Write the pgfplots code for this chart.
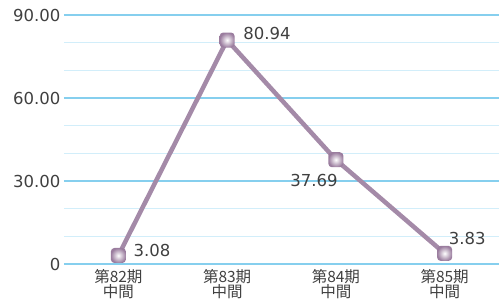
\documentclass[border=0pt]{standalone}
\usepackage{pgfplots}
\pgfplotsset{compat=1.18}
\usepackage{fontspec}
\setmainfont{DejaVu Sans}
\newfontfamily\cjk{Noto Sans CJK JP}
\definecolor{lncol}{HTML}{A48AA8}
\definecolor{mkdark}{HTML}{9A7C9E}
\definecolor{mkmid}{HTML}{C9B3CB}
\definecolor{gmaj}{HTML}{86CFEE}
\definecolor{gmin}{HTML}{D2EEFA}
\definecolor{txt}{HTML}{404040}
\begin{document}
\begin{tikzpicture}
\path[use as bounding box] (-64pt,-36pt) rectangle (435pt,264pt);
\begin{axis}[
  at={(0,0)}, anchor=south west,
  scale only axis, width=435pt, height=249pt,
  xmin=-0.5, xmax=3.5, ymin=0, ymax=90,
  axis line style={draw=none},
  major tick length=0pt, minor tick length=0pt,
  xtick={0,1,2,3},
  xticklabels={{第82期\\中間},{第83期\\中間},{第84期\\中間},{第85期\\中間}},
  xticklabel style={align=center, font=\cjk\fontsize{15.5}{14.5}\selectfont, text=txt, yshift=-2pt},
  ytick={0,30,60,90},
  yticklabels={0,30.00,60.00,90.00},
  minor ytick={10,20,40,50,70,80},
  yticklabel style={font=\fontsize{16.5}{18}\selectfont, text=txt, xshift=0pt},
  ymajorgrids, yminorgrids,
  major grid style={gmaj, line width=1.2pt},
  minor grid style={gmin, line width=1.2pt},
  clip=false,
]
\addplot[lncol, line width=4.5pt, mark=none] coordinates {(0,3.08) (1,80.94) (2,37.69) (3,3.83)};
\addplot[draw=none, mark=none, nodes near coords={},
  every node near coord/.append style={anchor=center, minimum size=15pt, inner sep=0pt,
    rounded corners=3.5pt, inner color=white, outer color=mkdark, shade}]
  coordinates {(0,3.08) (1,80.94) (2,37.69) (3,3.83)};
\begin{scope}[every node/.style={font=\fontsize{16.5}{18}\selectfont, text=txt, inner sep=0pt}]
\node[anchor=west] at (axis cs:0,3.08) [xshift=15pt, yshift=5pt] {3.08};
\node[anchor=west] at (axis cs:1,80.94) [xshift=16pt, yshift=7pt] {80.94};
\node[anchor=east] at (axis cs:2,37.69) [xshift=2pt, yshift=-21pt] {37.69};
\node[anchor=west] at (axis cs:3,3.83) [xshift=4pt, yshift=15pt] {3.83};
\end{scope}
\end{axis}
\end{tikzpicture}
\end{document}
